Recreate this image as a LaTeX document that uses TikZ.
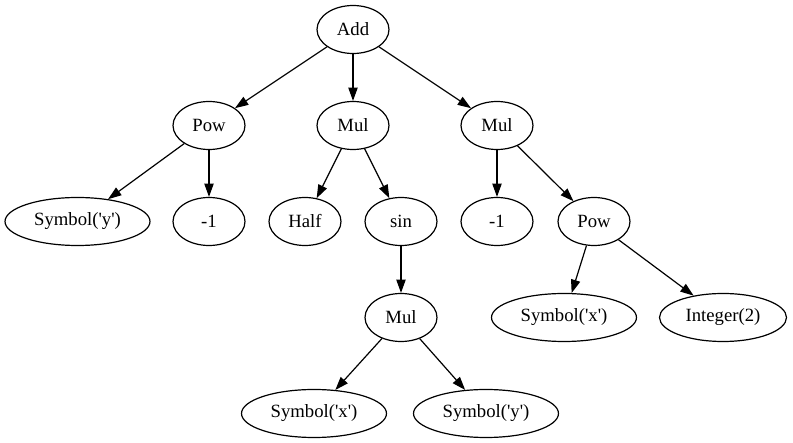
\documentclass[tikz,border=0pt]{standalone}
\usepackage{fontspec}
\setmainfont{Liberation Serif}
\usetikzlibrary{shapes.geometric,arrows.meta}
\begin{document}
\begin{tikzpicture}[x=1pt,y=-1pt,
  nd/.style={draw,ellipse,line width=1.2pt,inner sep=0pt,minimum width=72pt,minimum height=48pt,font=\fontsize{18.7}{20}\selectfont},
  ed/.style={-{Triangle[length=13.3pt,width=9.3pt]},line width=1.2pt}]
\useasboundingbox (0,0) rectangle (793,443);
\node[nd] (add) at (353,29.5) {Add};
\node[nd] (powl) at (209,125.5) {Pow};
\node[nd] (mulm) at (353,125.5) {Mul};
\node[nd] (mulr) at (497,125.5) {Mul};
\node[nd,minimum width=145pt] (syl) at (77.5,221.5) {Symbol(\textquotesingle y\textquotesingle)};
\node[nd] (m1l) at (209,221.5) {-1};
\node[nd] (half) at (305,221.5) {Half};
\node[nd] (sin) at (401,221.5) {sin};
\node[nd] (m1r) at (497,221.5) {-1};
\node[nd] (powr) at (594,221.5) {Pow};
\node[nd] (mull) at (401,317.5) {Mul};
\node[nd,minimum width=145pt] (sxr) at (564,317.5) {Symbol(\textquotesingle x\textquotesingle)};
\node[nd,minimum width=127pt] (int) at (723,317.5) {Integer(2)};
\node[nd,minimum width=145pt] (sxl) at (314,413.5) {Symbol(\textquotesingle x\textquotesingle)};
\node[nd,minimum width=145pt] (syr) at (486,413.5) {Symbol(\textquotesingle y\textquotesingle)};
\draw[ed] (add) -- (powl);
\draw[ed] (add) -- (mulm);
\draw[ed] (add) -- (mulr);
\draw[ed] (powl) -- (syl);
\draw[ed] (powl) -- (m1l);
\draw[ed] (mulm) -- (half);
\draw[ed] (mulm) -- (sin);
\draw[ed] (mulr) -- (m1r);
\draw[ed] (mulr) -- (powr);
\draw[ed] (sin) -- (mull);
\draw[ed] (powr) -- (sxr);
\draw[ed] (powr) -- (int);
\draw[ed] (mull) -- (sxl);
\draw[ed] (mull) -- (syr);
\end{tikzpicture}
\end{document}
